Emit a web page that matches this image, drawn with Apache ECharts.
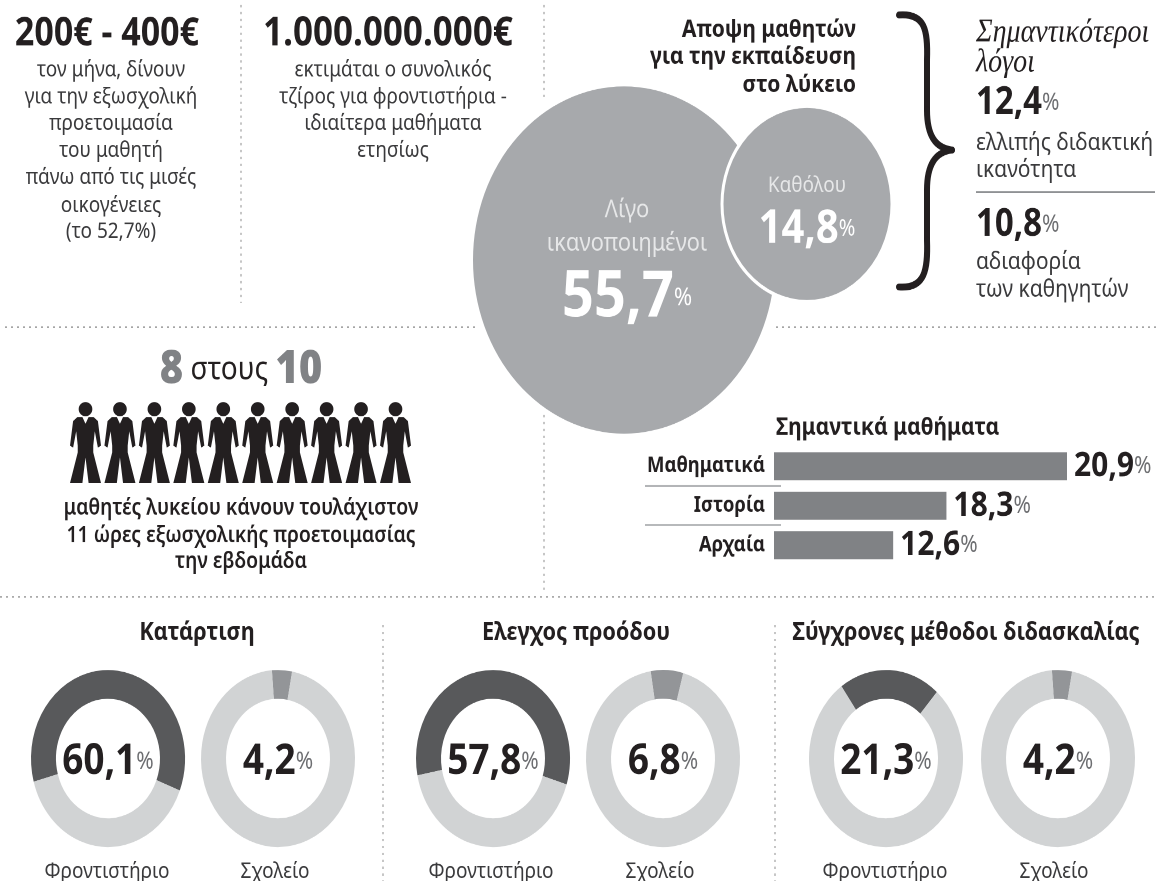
<!DOCTYPE html>
<html>
<head>
<meta charset="utf-8">
<title>Εξωσχολική προετοιμασία</title>
<script src="https://cdn.jsdelivr.net/npm/echarts@6/dist/echarts.min.js"></script>
<style>
html, body { margin: 0; padding: 0; background: #fff; height: 881px; }
html { overflow: hidden; }
/* the source graphic is stretched vertically, circles and letters alike */
#chart { width: 1158px; height: 766px; transform: scaleY(1.15); transform-origin: 0 0; }
</style>
</head>
<body>
<div id="chart"></div>
<script>
const SY = 1.15;

const opinionLabels = ['Λίγο\nικανοποιημένοι', 'Καθόλου'];
const opinionValues = [55.7, 14.8];

const reasonLabels = ['ελλιπής διδακτική\nικανότητα', 'αδιαφορία\nτων καθηγητών'];
const reasonValues = [12.4, 10.8];

const subjects = ['Μαθηματικά', 'Ιστορία', 'Αρχαία'];
const subjectValues = [20.9, 18.3, 12.6];
// the source does not draw these bars to scale, so this is the length each bar shows
const subjectBarLengths = [20.9, 12.3, 8.5];

const peopleCount = [10];

const donutGroups = ['Κατάρτιση', 'Ελεγχος προόδου', 'Σύγχρονες μέθοδοι διδασκαλίας'];
const donutKinds = ['Φροντιστήριο', 'Σχολείο'];
const tutoringValues = [60.1, 57.8, 21.3];
const schoolValues = [4.2, 6.8, 4.2];

const FONT = '"Noto Sans", sans-serif';
const DARK = '#231f20';

function Y(y) { return y / SY; }
function comma(v) { return String(v).replace('.', ','); }

function txt(x, y, text, size, opts) {
    opts = opts || {};
    return {
        type: 'text', x: x, y: Y(y), silent: true,
        style: {
            text: text,
            fill: opts.fill || DARK,
            font: (opts.style || 'normal') + ' ' + (opts.weight || 'normal') + ' ' + size + 'px ' + (opts.family || FONT),
            textAlign: opts.align || 'center',
            textVerticalAlign: 'middle',
            align: opts.align || 'center',
            verticalAlign: 'middle',
            rich: opts.rich
        }
    };
}

// several lines, each placed at its own y
function lines(x, ys, list, size, opts) {
    return list.map((t, i) => txt(x, ys[i], t, size, opts));
}

function dotted(x1, y1, x2, y2) {
    return {
        type: 'line', silent: true,
        shape: { x1: x1, y1: Y(y1), x2: x2, y2: Y(y2) },
        style: { stroke: '#a0a0a0', lineWidth: 1.2, lineDash: [2, 4] }
    };
}

function rule(x1, x2, y, color) {
    return {
        type: 'line', silent: true,
        shape: { x1: x1, y1: Y(y), x2: x2, y2: Y(y) },
        style: { stroke: color, lineWidth: 1.5 }
    };
}

function curve(x1, y1, cx1, cy1, cx2, cy2, x2, y2) {
    return {
        type: 'bezierCurve', silent: true,
        shape: { x1: x1, y1: Y(y1), cpx1: cx1, cpy1: Y(cy1), cpx2: cx2, cpy2: Y(cy2), x2: x2, y2: Y(y2) },
        style: { fill: 'none', stroke: DARK, lineWidth: 6, lineCap: 'round' }
    };
}

function percentText(x, y, v, size, pctSize) {
    return txt(x, y, '{n|' + comma(v) + '}{p|%}', size, {
        align: 'left',
        rich: {
            n: { font: 'bold ' + size + 'px ' + FONT, fill: DARK },
            p: { font: pctSize + 'px ' + FONT, fill: '#6d6e71' }
        }
    });
}

const graphics = [
    dotted(241, 5, 241, 303),
    dotted(544, 5, 544, 100),
    dotted(544, 415, 544, 590),
    dotted(5, 327, 476, 327),
    dotted(776, 327, 1158, 327),
    dotted(0, 597, 1158, 597),
    dotted(383, 625, 383, 881),
    dotted(775, 625, 775, 881),

    txt(107, 34, '200€ - 400€', 34, { weight: 'bold' }),
    ...lines(111, [70, 97, 124, 151, 178, 206, 232],
        ['τον μήνα, δίνουν', 'για την εξωσχολική', 'προετοιμασία', 'του μαθητή', 'πάνω από τις μισές', 'οικογένειες', '(το 52,7%)'],
        19, { fill: '#3a3a3c' }),

    txt(388, 34, '1.000.000.000€', 35, { weight: 'bold' }),
    ...lines(393, [70, 97, 124, 151],
        ['εκτιμάται ο συνολικός', 'τζίρος για φροντιστήρια -', 'ιδιαίτερα μαθήματα', 'ετησίως'],
        19, { fill: '#3a3a3c' }),

    ...lines(856, [30, 57, 85],
        ['Αποψη μαθητών', 'για την εκπαίδευση', 'στο λύκειο'],
        21, { weight: 'bold', align: 'right' }),

    // brace
    curve(899, 15, 925, 13, 928, 30, 927, 60),
    curve(927, 60, 927, 75, 927, 95, 927, 110),
    curve(927, 110, 927, 135, 935, 148, 952, 150),
    curve(952, 150, 935, 152, 927, 165, 927, 190),
    curve(927, 190, 927, 205, 927, 225, 927, 240),
    curve(927, 240, 928, 270, 925, 289, 899, 287),

    ...lines(976, [33, 63], ['Σημαντικότεροι', 'λόγοι'], 28,
        { align: 'left', style: 'italic', family: '"Liberation Serif", serif' }),
    percentText(976, 103, reasonValues[0], 33, 21),
    ...lines(976, [143, 170], reasonLabels[0].split('\n'), 21, { align: 'left', fill: '#3a3a3c' }),
    rule(976, 1155, 192, '#808285'),
    percentText(976, 225, reasonValues[1], 33, 21),
    ...lines(976, [262, 290], reasonLabels[1].split('\n'), 21, { align: 'left', fill: '#3a3a3c' }),

    txt(241, 370, '{a|8} {b|στους} {a|10}', 28, {
        rich: {
            a: { font: '900 40px ' + FONT, fill: '#808285' },
            b: { font: '28px ' + FONT, fill: DARK }
        }
    }),
    ...lines(241, [508, 536, 562],
        ['μαθητές λυκείου κάνουν τουλάχιστον', '11 ώρες εξωσχολικής προετοιμασίας', 'την εβδομάδα'],
        19.4, { weight: '600' }),

    txt(776, 428, 'Σημαντικά μαθήματα', 21, { align: 'left', weight: 'bold' }),
    rule(645, 781, 486, '#a7a9ac'),
    rule(645, 781, 525, '#a7a9ac'),

    txt(197, 633, donutGroups[0], 21.7, { weight: 'bold' }),
    txt(576, 633, donutGroups[1], 21.7, { weight: 'bold' }),
    txt(966, 633, donutGroups[2], 21.7, { weight: 'bold' })
];

const donutX = [[108, 278], [493, 663], [886, 1058]];
const labelX = [[107, 275], [491, 660], [885, 1054]];
donutX.forEach((pair, g) => {
    graphics.push(txt(labelX[g][0], 872, donutKinds[0], 19, { fill: '#3a3a3c' }));
    graphics.push(txt(labelX[g][1], 872, donutKinds[1], 19, { fill: '#3a3a3c' }));
});

function donut(x, value, color) {
    return {
        type: 'pie', silent: true, animation: false, avoidLabelOverlap: false,
        center: [x, Y(758.5)],
        radius: [52, 77],
        startAngle: 90 + value * 1.8 - 3,
        labelLine: { show: false },
        data: [
            {
                value: value,
                itemStyle: { color: color },
                label: {
                    show: true, position: 'center', offset: [0, 3],
                    formatter: '{n|' + comma(value) + '}{p|%}',
                    rich: {
                        n: { fontFamily: FONT, fontWeight: 'bold', fontSize: 37, color: DARK },
                        p: { fontFamily: FONT, fontSize: 21, color: '#6d6e71' }
                    }
                }
            },
            { value: 100 - value, itemStyle: { color: '#d1d3d4' }, label: { show: false } }
        ]
    };
}

function bubble(x, y, r, i, border, sizes) {
    return {
        type: 'pie', silent: true, animation: false,
        center: [x, Y(y)],
        radius: [0, r],
        labelLine: { show: false },
        data: [{
            value: opinionValues[i],
            itemStyle: { color: '#a7a9ac', borderColor: '#fff', borderWidth: border },
            label: {
                show: true, position: 'center', offset: sizes.off,
                formatter: opinionLabels[i].split('\n').map(t => '{t|' + t + '}').join('\n') +
                    '\n{n|' + comma(opinionValues[i]) + '}{p|%}',
                rich: {
                    t: { fontFamily: FONT, fontSize: sizes.t, color: '#e6e7e8', lineHeight: sizes.tl },
                    n: { fontFamily: FONT, fontWeight: 'bold', fontSize: sizes.n, color: '#fff', lineHeight: sizes.nl },
                    p: { fontFamily: FONT, fontSize: sizes.p, color: '#fff', lineHeight: sizes.nl }
                }
            }
        }]
    };
}

const series = [
    bubble(624, 260, 151, 0, 0, { t: 22, tl: 29, n: 56, p: 22, nl: 66, off: [3, 4] }),
    bubble(807, 204, 85, 1, 3, { t: 19, tl: 30, n: 40, p: 20, nl: 46, off: [0, 7] }),
    {
        type: 'bar', silent: true, animation: false,
        xAxisIndex: 0, yAxisIndex: 0,
        barWidth: 24.3,
        itemStyle: { color: '#808285' },
        data: subjectBarLengths,
        label: {
            show: true, position: 'right', distance: 7,
            formatter: p => '{n|' + comma(subjectValues[p.dataIndex]) + '}{p|%}',
            rich: {
                n: { fontFamily: FONT, fontWeight: 'bold', fontSize: 30, color: DARK },
                p: { fontFamily: FONT, fontSize: 21, color: '#6d6e71' }
            }
        }
    },
    {
        type: 'pictorialBar', silent: true, animation: false,
        xAxisIndex: 1, yAxisIndex: 1,
        data: peopleCount,
        symbol: 'path://M50 2a22 21 0 1 0 .01 0ZM24 46L40 46L50 66L60 46L76 46L90 58L100 130L90 136L80 88L75 130L75 150L100 240L60 240L50 165L40 240L0 240L25 150L25 130L20 88L10 136L0 130L10 58Z',
        symbolRepeat: peopleCount[0],
        symbolSize: [31, Y(81)],
        itemStyle: { color: '#231f20' }
    }
];

tutoringValues.forEach((v, g) => series.push(donut(donutX[g][0], v, '#58595b')));
schoolValues.forEach((v, g) => series.push(donut(donutX[g][1], v, '#939598')));

const chart = echarts.init(document.getElementById('chart'), null, { devicePixelRatio: 2 });
chart.setOption({
    backgroundColor: '#fff',
    animation: false,
    grid: [
        { left: 774, width: 293, top: Y(446.5), height: Y(118.5) },
        { left: 70, width: 341, top: Y(402), height: Y(81) }
    ],
    xAxis: [
        { gridIndex: 0, type: 'value', min: 0, max: 20.9, show: false },
        { gridIndex: 1, type: 'value', min: 0, max: 10, show: false }
    ],
    yAxis: [
        {
            gridIndex: 0, type: 'category', inverse: true, data: subjects,
            axisLine: { show: false }, axisTick: { show: false },
            axisLabel: { fontFamily: FONT, fontWeight: 'bold', fontSize: 18.5, color: DARK, margin: 9 }
        },
        { gridIndex: 1, type: 'category', data: ['μαθητές'], show: false }
    ],
    series: series,
    graphic: { elements: graphics }
});
</script>
</body>
</html>
